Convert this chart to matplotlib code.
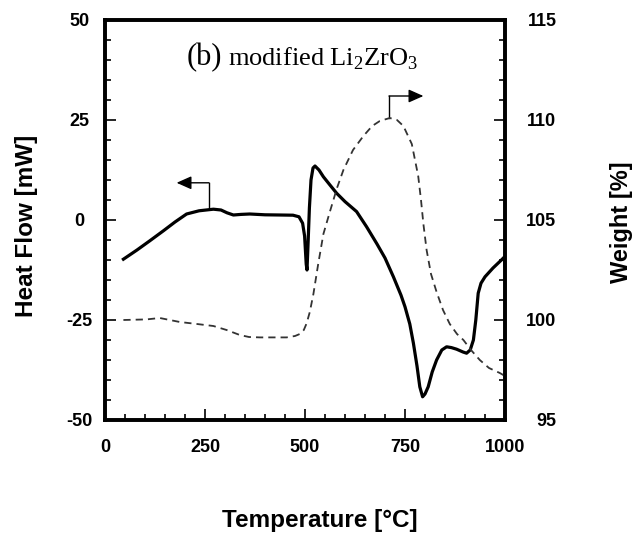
import matplotlib
matplotlib.use("Agg")
import matplotlib.pyplot as plt
from matplotlib.ticker import MultipleLocator

plt.rcParams['font.family'] = ['Liberation Sans', 'DejaVu Sans']
plt.rcParams['mathtext.fontset'] = 'custom'
plt.rcParams['mathtext.rm'] = 'Liberation Serif'
plt.rcParams['axes.unicode_minus'] = False

# Heat flow (solid, left axis)
hf_temp = [46, 80, 112, 146, 175, 204, 235, 271, 290, 305, 321, 340, 362, 400, 437,
           470, 485, 494, 499, 503, 505, 508, 511, 515, 520, 525, 535, 546, 562, 579,
           600, 629, 654, 680, 700, 721, 740, 750, 762, 771, 780, 787, 794, 800, 808,
           818, 829, 842, 854, 866, 879, 895, 904, 913, 921, 927, 933, 940, 950, 970,
           991, 998, 1000]
hf_val = [-9.8, -7.5, -5.2, -2.7, -0.5, 1.5, 2.3, 2.7, 2.5, 1.8, 1.25, 1.4, 1.5, 1.3, 1.25,
          1.2, 0.8, -0.8, -4.0, -11.0, -12.5, -5.0, 3.0, 10.0, 13.0, 13.5, 12.5, 10.8, 8.8, 6.7,
          4.6, 2.1, -1.7, -6.0, -9.5, -14.2, -18.8, -21.7, -26.0, -30.8, -36.5, -41.7, -44.2, -43.5, -41.7,
          -38.0, -35.0, -32.5, -31.7, -31.9, -32.3, -33.0, -33.3, -32.5, -30.0, -25.0, -18.3, -15.8, -14.2, -12.0,
          -10.0, -9.3, -11.5]

# Weight (dashed, right axis)
w_temp = [46, 104, 137, 187, 230, 271, 304, 337, 360, 387, 454, 475, 487, 497, 504,
          512, 521, 533, 546, 562, 580, 596, 620, 646, 668, 687, 712, 730, 746, 767,
          783, 790, 796, 804, 815, 829, 845, 862, 880, 896, 915, 937, 960, 987, 1000]
w_val = [100.0, 100.03, 100.1, 99.9, 99.8, 99.7, 99.5, 99.25, 99.15, 99.13, 99.13, 99.2,
         99.3, 99.5, 99.83, 100.4, 101.3, 102.8, 104.3, 105.4, 106.6, 107.5, 108.5, 109.2,
         109.7, 109.95, 110.1, 110.0, 109.7, 108.8, 107.2, 106.0, 104.8, 103.5, 102.3,
         101.4, 100.5, 99.8, 99.3, 99.0, 98.5, 98.0, 97.6, 97.35, 97.2]

x_ticks = [0, 250, 500, 750, 1000]
hf_ticks = [-50, -25, 0, 25, 50]
w_ticks = [95, 100, 105, 110, 115]

fig = plt.figure(figsize=(6.34, 5.37), dpi=100)
ax = fig.add_axes([105/634, 1-420/537, 400/634, 400/537])
ax2 = ax.twinx()

ax.plot(hf_temp, hf_val, color='black', lw=2.3, solid_joinstyle='round', zorder=3)
ax2.plot(w_temp, w_val, color='#333333', lw=1.3, dashes=(4, 2.8))

ax.set_xlim(0, 1000)
ax.set_ylim(-50, 50)
ax2.set_ylim(95, 115)

ax.set_xticks(x_ticks)
ax.set_yticks(hf_ticks)
ax2.set_yticks(w_ticks)
ax.xaxis.set_minor_locator(MultipleLocator(50))
ax.yaxis.set_minor_locator(MultipleLocator(5))
ax2.yaxis.set_minor_locator(MultipleLocator(1))

for a in (ax, ax2):
    for s in a.spines.values():
        s.set_linewidth(2.6)

ax.tick_params(axis='x', which='both', direction='in', top=False, width=1.2,
               labelsize=13, pad=14)
ax.tick_params(axis='x', which='major', length=8)
ax.tick_params(axis='x', which='minor', length=4)
ax.tick_params(axis='y', which='both', direction='in', right=False, width=1.2,
               labelsize=13, pad=18.5)
ax.tick_params(axis='y', which='major', length=8)
ax.tick_params(axis='y', which='minor', length=4.5)
ax2.tick_params(axis='y', which='both', direction='in', left=False, width=1.2,
                labelsize=13, pad=37)
ax2.tick_params(axis='y', which='major', length=8)
ax2.tick_params(axis='y', which='minor', length=4.5)

for t in ax.get_xticklabels() + ax.get_yticklabels() + ax2.get_yticklabels():
    t.set_fontweight('bold')
for t in ax.get_yticklabels():
    t.set_horizontalalignment('center')
for t in ax2.get_yticklabels():
    t.set_horizontalalignment('right')

ax.set_xlabel('Temperature [°C]', fontsize=17.5, fontweight='bold')
ax.xaxis.set_label_coords((320-105)/400, (420-521)/400)
ax.xaxis.label.set_va('center')
ax.set_ylabel('Heat Flow [mW]', fontsize=17.5, fontweight='bold')
ax.yaxis.set_label_coords((26-105)/400, (420-226)/400)
ax.yaxis.label.set_va('center')
ax2.set_ylabel('Weight [%]', fontsize=17, fontweight='bold', rotation=90)
ax2.yaxis.set_label_coords((622-105)/400, (420-222)/400)
ax2.yaxis.label.set_va('center')

# Title text
ax.text(292.5, 38.75, '(b)', fontsize=22, family='Liberation Serif',
        ha='right', va='baseline')
ax.text(307.5, 38.75, r'modified Li$_\mathrm{2}$ZrO$_\mathrm{3}$', fontsize=19,
        family='Liberation Serif', ha='left', va='baseline')

# Arrows pointing to the axes
left_arrow_x = [260, 260]
left_arrow_y = [3.0, 9.3]
ax.plot(left_arrow_x, left_arrow_y, color='black', lw=1.0)
ax.annotate('', xy=(179, 9.3), xytext=(260, 9.3),
            arrowprops=dict(arrowstyle='-|>,head_length=0.9,head_width=0.4',
                            color='black', lw=1.0, shrinkA=0, shrinkB=0))
right_arrow_x = [710, 710]
right_arrow_y = [25.5, 31.0]
ax.plot(right_arrow_x, right_arrow_y, color='black', lw=1.0)
ax.annotate('', xy=(796, 31.0), xytext=(710, 31.0),
            arrowprops=dict(arrowstyle='-|>,head_length=0.9,head_width=0.4',
                            color='black', lw=1.0, shrinkA=0, shrinkB=0))

fig.savefig('out.png', dpi=100)
